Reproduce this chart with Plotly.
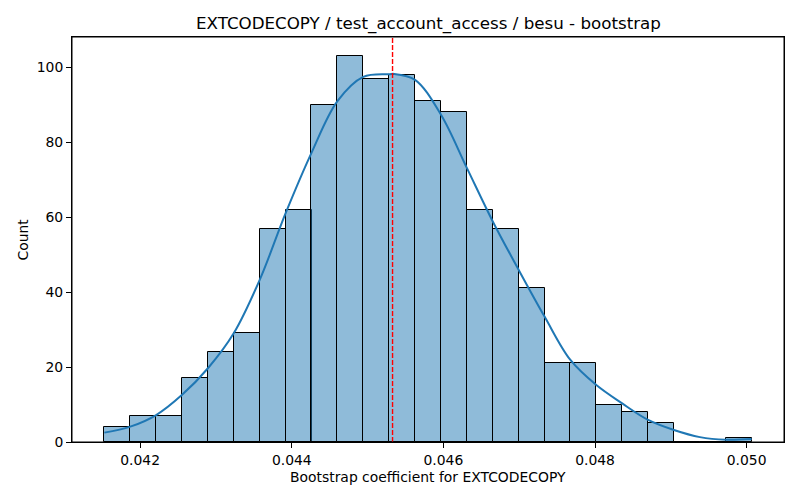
import plotly.graph_objects as go

# ---- data ----
bin_left = [0.041528, 0.041870, 0.042211, 0.042553, 0.042894, 0.043236, 0.043577,
            0.043919, 0.044260, 0.044602, 0.044943, 0.045285, 0.045626, 0.045968,
            0.046309, 0.046651, 0.046992, 0.047334, 0.047675, 0.048017, 0.048358,
            0.048700, 0.049041, 0.049383, 0.049724]
bin_width = 0.0003415
counts = [4, 7, 7, 17, 24, 29, 57, 62, 90, 103, 97, 98, 91, 88, 62, 57, 41, 21,
          21, 10, 8, 5, 0, 0, 1]

kde_x = [0.041528, 0.041870, 0.042211, 0.042553, 0.042894, 0.043236, 0.043577,
         0.043919, 0.044260, 0.044602, 0.044943, 0.045285, 0.045350, 0.045626,
         0.045968, 0.046309, 0.046651, 0.046992, 0.047334, 0.047675, 0.048017,
         0.048358, 0.048700, 0.049041, 0.049383, 0.049724, 0.050066]
kde_y = [2.5, 4.1, 7.2, 12.6, 19.7, 29.1, 43.3, 61.1, 77.2, 91.0, 97.5, 98.2, 98.3,
         96.7, 87.4, 73.2, 58.9, 46.0, 33.5, 21.9, 15.2, 10.3, 5.9, 3.2, 1.3, 0.6, 0.8]

mean_value = 0.045329

x_ticks = [0.042, 0.044, 0.046, 0.048, 0.050]
y_ticks = [0, 20, 40, 60, 80, 100]

title = "EXTCODECOPY / test_account_access / besu - bootstrap"
x_label = "Bootstrap coefficient for EXTCODECOPY"
y_label = "Count"

FONT = "DejaVu Sans"
OFF = 8                      # page body margin
W, H = 800 - OFF, 500 - OFF
L, R, T, B = 72 - OFF, 16, 37 - OFF, 58
PW, PH = W - L - R, H - T - B

fig = go.Figure()
fig.add_trace(go.Bar(
    x=bin_left, y=counts, width=bin_width, offset=0,
    marker=dict(color="rgba(31,119,180,0.5)", line=dict(color="black", width=1)),
    showlegend=False, hoverinfo="x+y",
))
fig.add_trace(go.Scatter(
    x=kde_x, y=kde_y, mode="lines",
    line=dict(color="#1f77b4", width=2, shape="spline", smoothing=1.0),
    showlegend=False,
))
fig.add_shape(type="line", x0=mean_value, x1=mean_value, y0=0, y1=1,
              xref="x", yref="paper",
              line=dict(color="red", width=1.4, dash="5px,2px"))
# axes frame
fig.add_shape(type="rect", x0=0, x1=1, y0=0, y1=1, xref="paper", yref="paper",
              line=dict(color="black", width=1), layer="above")

x_min = bin_left[0]
x_max = bin_left[-1] + bin_width
pad = (x_max - x_min) * 0.05
y_top = max(counts) * 1.05

axis_common = dict(
    showline=True, linecolor="black", linewidth=1, mirror=True,
    ticks="outside", ticklen=5, tickwidth=1, tickcolor="black",
    showgrid=False, zeroline=False, automargin=False,
    tickfont=dict(family=FONT, size=13.9, color="black"),
)

fig.update_layout(
    width=W, height=H,
    margin=dict(l=L, r=R, t=T, b=B, autoexpand=False),
    paper_bgcolor="white", plot_bgcolor="white",
    bargap=0,
    xaxis=dict(range=[x_min - pad, x_max + pad], tickvals=x_ticks,
               ticktext=[f"{v:.3f}" for v in x_ticks], **axis_common),
    yaxis=dict(range=[0, y_top], tickvals=y_ticks, **axis_common),
    annotations=[
        dict(text=title, xref="paper", yref="paper", x=0.5,
             y=1 + (37 - 23) / PH, xanchor="center", yanchor="middle",
             showarrow=False, font=dict(family=FONT, size=16.7, color="black")),
        dict(text=x_label, xref="paper", yref="paper", x=0.5,
             y=-(477 - 442) / PH, xanchor="center", yanchor="middle",
             showarrow=False, font=dict(family=FONT, size=13.9, color="black")),
        dict(text=y_label, xref="paper", yref="paper",
             x=-(72 - 22) / PW, y=0.5, xanchor="center", yanchor="middle",
             textangle=-90, showarrow=False,
             font=dict(family=FONT, size=13.9, color="black")),
    ],
)

fig.write_html("out.html")
